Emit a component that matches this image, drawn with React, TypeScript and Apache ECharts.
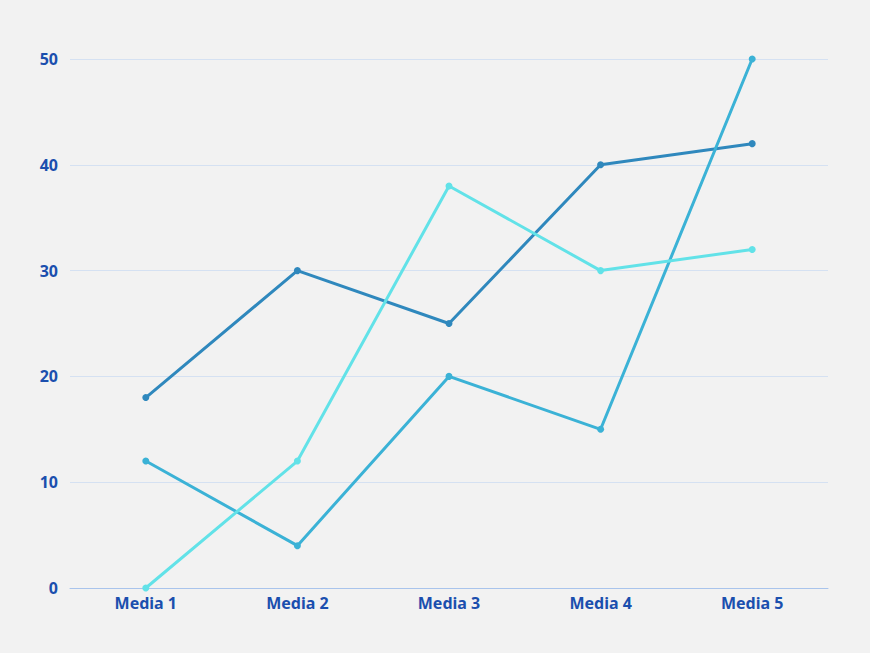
import React, { useEffect, useRef } from "react";
import * as echarts from "echarts";

const categories = ["Media 1", "Media 2", "Media 3", "Media 4", "Media 5"];
const seriesA = [18, 30, 25, 40, 42];
const seriesB = [12, 4, 20, 15, 50];
const seriesC = [0, 12, 38, 30, 32];

export default function App() {
  const ref = useRef<HTMLDivElement>(null);
  useEffect(() => {
    if (!ref.current) return;
    const chart = echarts.init(ref.current, null, { renderer: "svg" });
    const labelStyle = {
      color: "#1b4fae",
      fontWeight: "bold" as const,
      fontSize: 16,
      fontFamily: "Noto Sans",
    };
    const mk = (name: string, data: number[], color: string) => ({
      name,
      type: "line",
      data,
      symbol: "circle",
      symbolSize: 7,
      lineStyle: { width: 3, color },
      itemStyle: { color },
    });
    chart.setOption({
      animation: false,
      backgroundColor: "#f2f2f2",
      grid: { left: 70, right: 42, top: 59, bottom: 65 },
      xAxis: {
        type: "category",
        data: categories,
        axisLine: { lineStyle: { color: "#a9c4ec", width: 1 } },
        axisTick: { show: false },
        axisLabel: { ...labelStyle, margin: 7 },
      },
      yAxis: {
        type: "value",
        min: 0,
        max: 50,
        interval: 10,
        axisLine: { show: false },
        axisTick: { show: false },
        splitLine: { lineStyle: { color: "#d5e1f2", width: 1 } },
        axisLabel: { ...labelStyle, margin: 12 },
      },
      series: [
        mk("A", seriesA, "#2f88bd"),
        mk("B", seriesB, "#3bb2d6"),
        mk("C", seriesC, "#62e2e8"),
      ],
    });
    return () => chart.dispose();
  }, []);
  return (
    <div
      ref={ref}
      style={{ position: "absolute", left: 0, top: 0, width: 870, height: 653 }}
    />
  );
}
